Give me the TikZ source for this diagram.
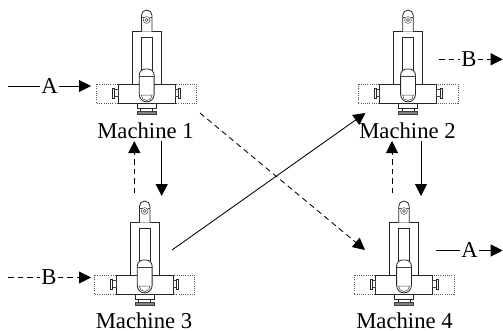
\documentclass[tikz,border=0pt]{standalone}
\usepackage{fontspec}
\setmainfont{Liberation Serif}
\usetikzlibrary{arrows.meta}
\tikzset{
  x=1pt,y=-1pt,
  part/.style={draw=black!85,line width=0.8pt,fill=white},
  thinpart/.style={draw=black!75,line width=0.5pt,fill=white},
  dotbox/.style={draw=black!65,line width=0.55pt,dash pattern=on 0.9pt off 1.3pt},
  lbl/.style={font=\fontsize{22.7}{23}\selectfont,inner sep=1pt},
  mlbl/.style={lbl,anchor=base,inner sep=0pt},
  flow/.style={line width=0.85pt,-{Triangle[length=12pt,width=12pt]}},
  flowd/.style={flow,dash pattern=on 5.5pt off 4pt},
  plain/.style={line width=0.85pt},
  plaind/.style={plain,dash pattern=on 5.5pt off 4pt},
  machine/.pic={
    \draw[dotbox] (-50,0) rectangle (50,19.5);
    \draw[part] (-14.5,-52.3) rectangle (14.5,0);
    \draw[part] (-5.3,-47) rectangle (5.3,-10);
    \draw[part] (-28.5,0) rectangle (28.5,19.5);
    \draw[thinpart] (-32,5.5) rectangle (-28.5,12.5);
    \draw[part] (-34,4) rectangle (-32,14);
    \draw[thinpart] (28.5,5.5) rectangle (32,12.5);
    \draw[part] (32,4) rectangle (34,14);
    \draw[part] (-6,24) rectangle (6,27);
    \draw[part] (-9.3,19.5) rectangle (9.3,24);
    \draw[line width=0.7pt,draw=black!75,fill=black!50] (-9.3,27.5) rectangle (9.3,30);
    \draw[part] (-5.3,-52.3) -- (-5.3,-68.7) arc[start angle=180,end angle=360,radius=5.3] -- (5.3,-52.3);
    \draw[thinpart] (0,-64) circle[radius=3.4];
    \draw[thinpart] (0,-64) circle[radius=1.5];
    \draw[thinpart] (-5.3,-66.5) -- (-3,-66.5) (3,-66.5) -- (5.3,-66.5);
    \draw[part] (-7.4,-9) arc[start angle=180,end angle=270,radius=6] -- (1.4,-15) arc[start angle=270,end angle=360,radius=6]
       -- (7.4,10.5) arc[start angle=0,end angle=180,radius=7.4] -- cycle;
    \draw[thinpart] (-7.4,-8) -- (7.4,-8);
    \draw[thinpart] (-5.5,11) arc[start angle=180,end angle=0,radius=5.5] -- cycle;
  }
}
\begin{document}
\begin{tikzpicture}
\useasboundingbox (0,0) rectangle (503,330);
\pic at (146.7,84) {machine};
\pic at (408,84) {machine};
\pic at (144.7,275) {machine};
\pic at (404,275) {machine};
\node[mlbl] (m1) at (145.5,138) {Machine 1};
\node[mlbl] (m2) at (407.5,138) {Machine 2};
\node[mlbl] (m3) at (144,328.5) {Machine 3};
\node[mlbl] (m4) at (404.5,328.5) {Machine 4};
\node[lbl] (a1) at (49.5,86) {A};
\coordinate (a1s) at (8,86);
\coordinate (a1e) at (91,86);
\draw[plain] (a1s) -- (a1);
\draw[flow] (a1) -- (a1e);
\node[lbl] (b2) at (469,59.3) {B};
\coordinate (b2s) at (439,59.3);
\coordinate (b2e) at (502.7,59.3);
\draw[plaind] (b2s) -- (b2);
\draw[flowd] (b2) -- (b2e);
\node[lbl] (b3) at (49,277.5) {B};
\coordinate (b3s) at (8,277.5);
\coordinate (b3e) at (91,277.5);
\draw[plaind] (b3s) -- (b3);
\draw[flowd] (b3) -- (b3e);
\node[lbl] (a4) at (469.5,250.5) {A};
\coordinate (a4s) at (436,250.5);
\coordinate (a4e) at (502.7,250.5);
\draw[plain] (a4s) -- (a4);
\draw[flow] (a4) -- (a4e);
\coordinate (v13a) at (161.7,141);
\coordinate (v13b) at (161.7,196);
\draw[flow] (v13a) -- (v13b);
\coordinate (v31a) at (134.3,193);
\coordinate (v31b) at (134.3,141);
\draw[flowd] (v31a) -- (v31b);
\coordinate (v24a) at (421,141);
\coordinate (v24b) at (421,196);
\draw[flow] (v24a) -- (v24b);
\coordinate (v42a) at (392,193);
\coordinate (v42b) at (392,141);
\draw[flowd] (v42a) -- (v42b);
\coordinate (d14a) at (200,113);
\coordinate (d14b) at (365,250);
\draw[flowd] (d14a) -- (d14b);
\coordinate (d32a) at (172,250);
\coordinate (d32b) at (365.5,113);
\draw[flow] (d32a) -- (d32b);
\end{tikzpicture}
\end{document}
